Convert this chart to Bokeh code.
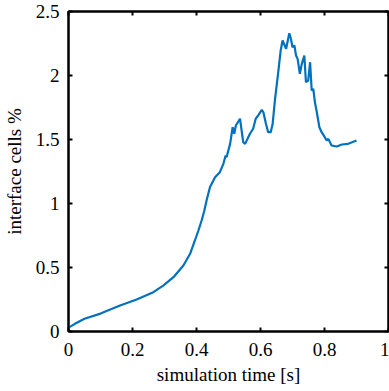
from bokeh.plotting import figure
from bokeh.models import LinearAxis, Range1d, FixedTicker
from bokeh.embed import file_html
from bokeh.resources import INLINE

time_s = [0.0, 0.02, 0.05, 0.10, 0.161, 0.213, 0.265, 0.296, 0.328, 0.359, 0.38, 0.395, 0.406,
          0.416, 0.424, 0.432, 0.442, 0.458, 0.473, 0.484, 0.491, 0.494, 0.505, 0.513,
          0.518, 0.523, 0.536, 0.546, 0.552, 0.567, 0.577, 0.585, 0.593, 0.604, 0.609, 0.617,
          0.624, 0.632, 0.638, 0.645, 0.656, 0.663, 0.669, 0.680, 0.690, 0.695, 0.700, 0.706,
          0.711, 0.716, 0.723, 0.729, 0.737, 0.742, 0.749, 0.755, 0.760, 0.765, 0.770, 0.776,
          0.784, 0.791, 0.798, 0.807, 0.812, 0.822, 0.838, 0.854, 0.874, 0.900]
interface_pct = [0.03, 0.06, 0.10, 0.14, 0.203, 0.25, 0.307, 0.359, 0.424, 0.516, 0.607, 0.711, 0.789,
                 0.867, 0.94, 1.03, 1.127, 1.205, 1.245, 1.31, 1.375, 1.362, 1.466, 1.596,
                 1.545, 1.609, 1.662, 1.479, 1.466, 1.545, 1.584, 1.662, 1.688, 1.732, 1.713, 1.623,
                 1.557, 1.557, 1.623, 1.805, 2.039, 2.195, 2.273, 2.209, 2.33, 2.287, 2.221, 2.234,
                 2.156, 2.13, 2.013, 2.091, 2.156, 1.948, 1.961, 2.104, 1.883, 1.896, 1.792, 1.713,
                 1.596, 1.557, 1.53, 1.492, 1.505, 1.453, 1.445, 1.461, 1.466, 1.492]

x_ticks = [0, 0.2, 0.4, 0.6, 0.8, 1]
y_ticks = [0, 0.5, 1, 1.5, 2, 2.5]

FONT = "Liberation Serif"

p = figure(width=389, height=391, output_backend="svg", toolbar_location=None,
           x_range=Range1d(0, 1), y_range=Range1d(0, 2.5),
           min_border_left=68, min_border_right=1, min_border_top=11, min_border_bottom=60)
p.grid.visible = False
p.outline_line_color = "black"
p.outline_line_width = 2
p.background_fill_color = "white"
p.border_fill_color = "white"

p.line(time_s, interface_pct, line_color="#0072BD", line_width=2.2)

p.xaxis.ticker = FixedTicker(ticks=x_ticks)
p.yaxis.ticker = FixedTicker(ticks=y_ticks)
for ax in p.xaxis + p.yaxis:
    ax.major_tick_in = 4
    ax.major_tick_out = 0
    ax.minor_tick_line_color = None
    ax.axis_line_width = 2
    ax.major_tick_line_width = 2
    ax.major_label_text_font = FONT
    ax.major_label_text_font_size = "19px"
    ax.major_label_text_color = "black"
    ax.axis_label_text_font = FONT
    ax.axis_label_text_font_size = "19px"
    ax.axis_label_text_font_style = "normal"
    ax.axis_label_text_color = "black"
p.xaxis.axis_label = "simulation time [s]"
p.yaxis.axis_label = "interface cells %"
p.xaxis.major_label_standoff = 11
p.yaxis.major_label_standoff = 9
p.xaxis.axis_label_standoff = 5
p.yaxis.axis_label_standoff = 8
p.xaxis.major_label_overrides = {0: "0", 1: "1"}
p.yaxis.major_label_overrides = {0: "0", 1: "1", 2: "2"}

for loc, tk in (("right", y_ticks), ("above", x_ticks)):
    ax = LinearAxis(ticker=FixedTicker(ticks=tk))
    ax.major_tick_in = 4
    ax.major_tick_out = 0
    ax.major_tick_line_width = 2
    ax.minor_tick_line_color = None
    ax.axis_line_width = 2
    ax.major_label_overrides = {t: "" for t in tk}
    ax.major_label_text_font_size = "1px"
    ax.major_label_standoff = 0
    p.add_layout(ax, loc)

open("out.html", "w").write(file_html(p, INLINE))
